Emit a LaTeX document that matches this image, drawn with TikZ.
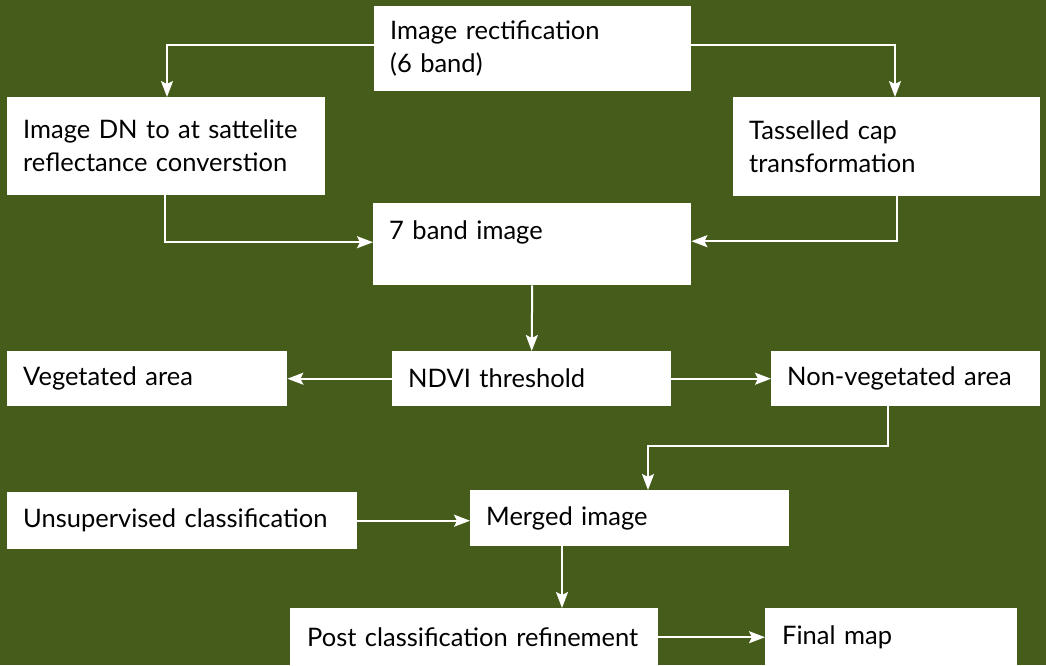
\documentclass[tikz,border=0pt]{standalone}
\usepackage{fontspec}
\setmainfont{Lato}
\usetikzlibrary{arrows.meta}
\definecolor{bggreen}{RGB}{69,92,26}
\tikzset{
  box/.style={draw=none, fill=white, rectangle, anchor=north west, inner xsep=16pt, inner ysep=0pt,
    align=left, font=\fontsize{25.5}{33}\selectfont, text=black},
  arr/.style={draw=white, line width=2pt, -{Stealth[length=16pt,width=12pt,inset=3pt]}}
}
\begin{document}
\begin{tikzpicture}[x=1pt,y=-1pt]
\fill[bggreen] (0,0) rectangle (1046,665);
\useasboundingbox (0,0) rectangle (1046,665);
\node[box, minimum width=317pt, minimum height=85pt, text width=285pt] (A) at (374,6) {Image rectification\\(6 band)};
\node[box, minimum width=318pt, minimum height=98pt, text width=286pt] (B) at (7,97) {Image DN to at sattelite\\reflectance converstion};
\node[box, minimum width=307pt, minimum height=99pt, text width=275pt] (C) at (733,97) {Tasselled cap\\transformation};
\node[box, minimum width=318pt, minimum height=82pt, text width=286pt] (D) at (373,203) {7 band image\\[-14pt]\strut};
\node[box, minimum width=280pt, minimum height=55pt, text width=248pt] (E) at (7,351) {Vegetated area};
\node[box, minimum width=279pt, minimum height=55pt, text width=247pt] (F) at (392,351) {NDVI threshold};
\node[box, minimum width=269pt, minimum height=55pt, text width=237pt] (G) at (771,351) {Non-vegetated area};
\node[box, minimum width=350pt, minimum height=57pt, text width=318pt] (H) at (7,492) {Unsupervised classification};
\node[box, minimum width=319pt, minimum height=56pt, text width=287pt] (I) at (470,490) {Merged image};
\node[box, minimum width=368pt, minimum height=58pt, text width=334pt, inner xsep=17pt] (J) at (290,608) {Post classification refinement};
\node[box, minimum width=252pt, minimum height=58pt, text width=218pt, inner xsep=17pt] (K) at (765,608) {Final map};
\coordinate (bend) at (648,446);
\coordinate (mo) at ([xshift=92pt]I.south west);
\draw[arr] ([yshift=4pt]A.west) -| ([xshift=160pt]B.north west);
\draw[arr] ([yshift=4pt]A.east) -| ([xshift=162pt]C.north west);
\draw[arr] ([xshift=158pt]B.south west) |- ([yshift=2pt]D.west);
\draw[arr] ([xshift=164pt]C.south west) |- ([yshift=3pt]D.east);
\draw[arr] (D.south) -- (F.north);
\draw[arr] (F.west) -- (E.east);
\draw[arr] (F.east) -- (G.west);
\draw[arr] ([xshift=117pt]G.south west) |- (bend) -- ([xshift=178pt]I.north west);
\draw[arr] (H.east) -- (I.west |- H.east);
\draw[arr] (mo) -- (J.north -| mo);
\draw[arr] (J.east) -- (K.west);
\end{tikzpicture}
\end{document}
